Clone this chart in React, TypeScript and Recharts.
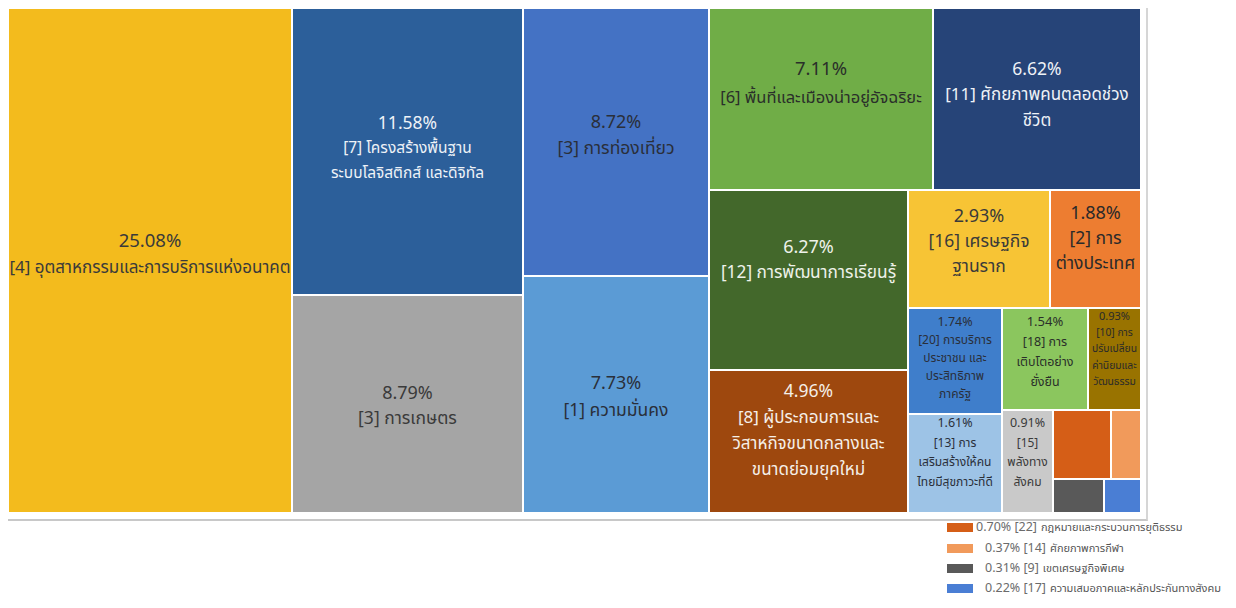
import React from "react";
import { Treemap } from "recharts";

// ---------- data ----------
const CODES = ["[4]", "[7]", "[3]", "[3]", "[1]", "[6]", "[11]", "[12]", "[8]", "[16]", "[2]", "[20]", "[13]", "[18]", "[10]", "[15]", "[22]", "[14]", "[9]", "[17]"];

const NAMES = [
  "อุตสาหกรรมและการบริการแห่งอนาคต",
  "โครงสร้างพื้นฐาน ระบบโลจิสติกส์ และดิจิทัล",
  "การเกษตร",
  "การท่องเที่ยว",
  "ความมั่นคง",
  "พื้นที่และเมืองน่าอยู่อัจฉริยะ",
  "ศักยภาพคนตลอดช่วงชีวิต",
  "การพัฒนาการเรียนรู้",
  "ผู้ประกอบการและวิสาหกิจขนาดกลางและขนาดย่อมยุคใหม่",
  "เศรษฐกิจฐานราก",
  "การต่างประเทศ",
  "การบริการประชาชน และประสิทธิภาพภาครัฐ",
  "การเสริมสร้างให้คนไทยมีสุขภาวะที่ดี",
  "การเติบโตอย่างยั่งยืน",
  "การปรับเปลี่ยนค่านิยมและวัฒนธรรม",
  "พลังทางสังคม",
  "กฎหมายและกระบวนการยุติธรรม",
  "ศักยภาพการกีฬา",
  "เขตเศรษฐกิจพิเศษ",
  "ความเสมอภาคและหลักประกันทางสังคม",
];

const SHARES = [25.08, 11.58, 8.79, 8.72, 7.73, 7.11, 6.62, 6.27, 4.96, 2.93, 1.88, 1.74, 1.61, 1.54, 0.93, 0.91, 0.7, 0.37, 0.31, 0.22];

// label text as wrapped inside each cell (after the percentage line)
const LABEL_LINES: string[][] = [
  ["[4] อุตสาหกรรมและการบริการแห่งอนาคต"],
  ["[7] โครงสร้างพื้นฐาน", "ระบบโลจิสติกส์ และดิจิทัล"],
  ["[3] การเกษตร"],
  ["[3] การท่องเที่ยว"],
  ["[1] ความมั่นคง"],
  ["[6] พื้นที่และเมืองน่าอยู่อัจฉริยะ"],
  ["[11] ศักยภาพคนตลอดช่วง", "ชีวิต"],
  ["[12] การพัฒนาการเรียนรู้"],
  ["[8] ผู้ประกอบการและ", "วิสาหกิจขนาดกลางและ", "ขนาดย่อมยุคใหม่"],
  ["[16] เศรษฐกิจ", "ฐานราก"],
  ["[2] การ", "ต่างประเทศ"],
  ["[20] การบริการ", "ประชาชน และ", "ประสิทธิภาพ", "ภาครัฐ"],
  ["[13] การ", "เสริมสร้างให้คน", "ไทยมีสุขภาวะที่ดี"],
  ["[18] การ", "เติบโตอย่าง", "ยั่งยืน"],
  ["[10] การ", "ปรับเปลี่ยน", "ค่านิยมและ", "วัฒนธรรม"],
  ["[15]", "พลังทาง", "สังคม"],
  [],
  [],
  [],
  [],
];

// items that are explained in the legend instead of inside the cell
const LEGEND_ITEMS = [16, 17, 18, 19];

// ---------- styles ----------
const COLORS = [
  "#F3BB1D", "#2C5F9A", "#A5A5A5", "#4472C4", "#5B9BD5", "#70AD47", "#264478", "#43682B",
  "#9E480E", "#F7C435", "#ED7D31", "#3F7ECB", "#9DC3E6", "#8BC65E", "#997300", "#C9C9C9",
  "#D55E17", "#F19A5B", "#595959", "#4A7ED4",
];
const TEXT_COLORS = [
  "#3a3a3a", "#eef2f7", "#3a3a3a", "#2a2f3a", "#2a2f3a", "#2a2f2a", "#eef2f7", "#eef2ea",
  "#f5efe8", "#3a3a3a", "#2a2a2a", "#2a2f3a", "#2a2f3a", "#2a2f2a", "#2a2a2a", "#3a3a3a",
  "#fff", "#fff", "#fff", "#fff",
];
// font size of the percentage line and of the name lines
const PCT_SIZES = [18.5, 17.5, 18, 18, 18, 18.5, 17.5, 18, 17.5, 18, 18, 12.5, 12.5, 13, 11, 12.5, 12, 12, 12, 12];
const NAME_SIZES = [17, 15.5, 17.5, 17.5, 17.5, 16.5, 17, 17.3, 17, 17.5, 17.5, 12, 12, 12.5, 10.3, 12, 12, 12, 12, 12];
const LINE_HEIGHTS = [27, 25, 25, 26, 27, 28, 26, 25, 26, 25, 25, 17.8, 19.5, 20, 16.5, 19.5, 18, 18, 18, 18];
const LABEL_DY = [-6, -3, 2, -7, 2, -16, -4, -20, -11, -8, -11, -3, -11, -7, -10, -9, 0, 0, 0, 0];

const FONT = "'Noto Sans Thai', 'Noto Sans', 'DejaVu Sans', sans-serif";

const leaf = (i: number) => ({ name: `${CODES[i]} ${NAMES[i]}`, value: SHARES[i], idx: i });

const treeData = [
  ...SHARES.slice(0, 16).map((_, i) => leaf(i)),
  {
    name: "small",
    children: [
      { name: "small-a", children: [leaf(16), leaf(17)] },
      { name: "small-b", children: [leaf(18), leaf(19)] },
    ],
  },
];

const pct = (v: number) => `${v.toFixed(2)}%`;

function CellContent(props: any) {
  const { x, y, width, height, idx } = props;
  if (idx === undefined || idx === null) return null;
  const lh = LINE_HEIGHTS[idx];
  const lines = LABEL_LINES[idx].length ? [pct(SHARES[idx]), ...LABEL_LINES[idx]] : [];
  const cx = x + width / 2;
  const cy = y + height / 2 + LABEL_DY[idx];
  const top = cy - (lines.length * lh) / 2;
  return (
    <g>
      <rect x={x} y={y} width={width} height={height} fill={COLORS[idx]} stroke="#ffffff" strokeWidth={2} />
      {lines.map((t, k) => (
        <text
          key={k}
          x={cx}
          y={top + lh * k + lh / 2}
          dominantBaseline="central"
          textAnchor="middle"
          fontSize={k === 0 ? PCT_SIZES[idx] : NAME_SIZES[idx]}
          fill={TEXT_COLORS[idx]}
          fontFamily={FONT}
        >
          {t}
        </text>
      ))}
    </g>
  );
}

const LEGEND_TOPS = [514, 535, 555, 575];

export default function App() {
  return (
    <div style={{ position: "relative", width: 1228, height: 600, fontFamily: FONT }}>
      <div
        style={{
          position: "absolute",
          left: -5,
          top: -5,
          width: 1142,
          height: 515,
          borderTop: "1px solid #eeeeee",
          borderLeft: "1px solid #eeeeee",
          borderRight: "2px solid #d6d6d6",
          borderBottom: "2px solid #c8c8c8",
        }}
      />
      <div style={{ position: "absolute", left: 0, top: 0 }}>
        <Treemap
          width={1133}
          height={505}
          data={treeData}
          dataKey="value"
          nameKey="name"
          aspectRatio={1}
          isAnimationActive={false}
          content={(p: any) => <CellContent {...p} />}
        />
      </div>
      {LEGEND_ITEMS.map((i, k) => (
        <div
          key={i}
          style={{
            position: "absolute",
            left: 939,
            top: LEGEND_TOPS[k] - 5,
            height: 20,
            display: "flex",
            alignItems: "center",
            whiteSpace: "nowrap",
          }}
        >
          <div style={{ width: 26, height: 9, background: COLORS[i], marginRight: k === 0 ? 3 : 12 }} />
          <span style={{ fontSize: 12.5, color: "#6b6b6b" }}>{`${pct(SHARES[i])} ${CODES[i]}`}</span>
          <span style={{ fontSize: 11, color: "#555", marginLeft: 4 }}>{NAMES[i]}</span>
        </div>
      ))}
    </div>
  );
}
